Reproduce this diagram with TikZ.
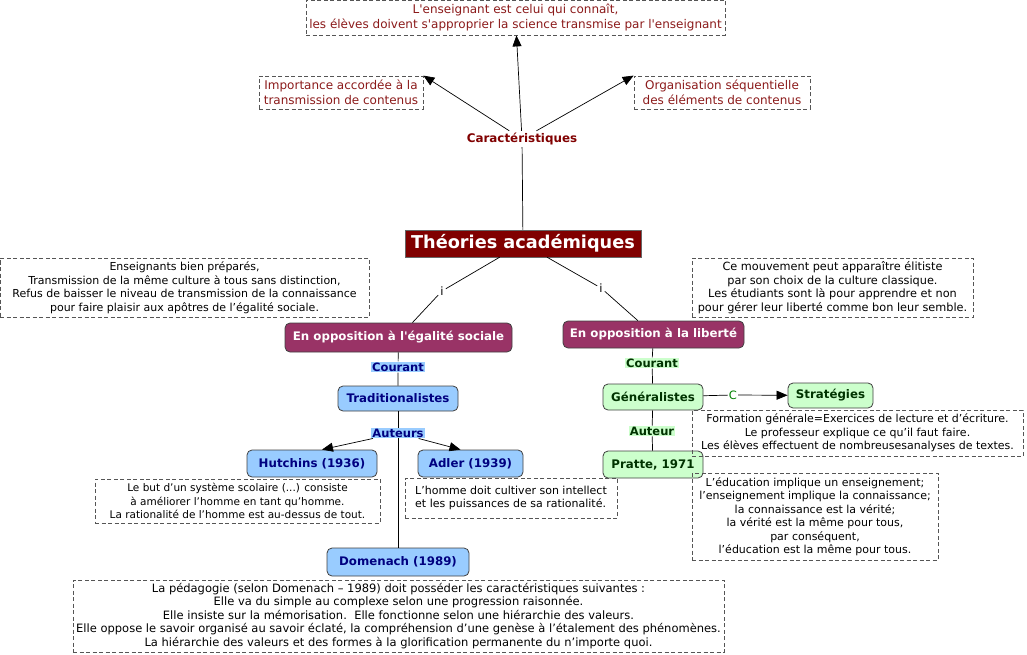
\documentclass[tikz,border=0pt]{standalone}
\usepackage{fontspec}
\setmainfont{DejaVu Sans}
\usepackage{tikz}
\usetikzlibrary{arrows.meta, shapes.misc, positioning, calc}
\definecolor{theored}{HTML}{800000}
\definecolor{notered}{HTML}{8B1A1A}
\definecolor{opppurple}{HTML}{993366}
\definecolor{tradblue}{HTML}{99CCFF}
\definecolor{tradnavy}{HTML}{000080}
\definecolor{gengreen}{HTML}{CCFFCC}
\definecolor{gendark}{HTML}{003300}
\definecolor{clgreen}{HTML}{008000}
\definecolor{notegray}{HTML}{555555}

\tikzset{
  conceptbox/.style={draw=black!75, rounded corners=5pt, line width=0.8pt,
    font=\fontsize{11.8}{13}\selectfont\bfseries, inner sep=2pt},
  oppbox/.style={conceptbox, fill=opppurple, text=white},
  bluebox/.style={conceptbox, fill=tradblue, text=tradnavy},
  greenbox/.style={conceptbox, fill=gengreen, text=gendark},
  notebox/.style={draw=notegray, dash pattern=on 4pt off 2.5pt, line width=0.8pt,
    align=center, font=\fontsize{11}{13.5}\selectfont, inner sep=2pt},
  rednote/.style={notebox, text=notered, font=\fontsize{12}{14.5}\selectfont},
  bluelabel/.style={fill=tradblue, text=tradnavy, inner sep=1pt,
    font=\fontsize{11.5}{12}\selectfont\bfseries},
  greenlabel/.style={fill=gengreen, text=gendark, inner sep=1pt,
    font=\fontsize{11.5}{12}\selectfont\bfseries},
  plainlabel/.style={inner sep=2pt, font=\fontsize{11.5}{12}\selectfont},
  linkline/.style={black, line width=0.7pt},
  arrowlink/.style={linkline, -{Triangle[length=11pt,width=9pt]}}
}

\begin{document}
\begin{tikzpicture}[x=1pt, y=-1pt]
  \useasboundingbox (0,0) rectangle (1027,655);

  %% Main concept and its characteristics
  \node[fill=theored, draw=black!60, text=white, inner sep=3pt,
        minimum width=236, minimum height=27,
        font=\fontsize{17.7}{19}\selectfont\bfseries] (theo) at (523,243.5) {Théories académiques};
  \node[text=theored, inner sep=2pt, font=\fontsize{11.9}{13}\selectfont\bfseries]
    (car) at (522,139) {Caractéristiques};

  %% The two branches
  \node[oppbox, minimum width=227, minimum height=29] (oppegal) at (398.5,337.5) {En opposition à l\textquotesingle égalité sociale};
  \node[oppbox, minimum width=181, minimum height=27] (opplib) at (653.5,334.5) {En opposition à la liberté};
  \node[plainlabel] (ileft) at (442,291) {i};
  \node[plainlabel] (iright) at (601,288) {i};

  %% Left branch: Traditionalistes
  \node[bluelabel] (courtrad) at (398,367) {Courant};
  \node[bluebox, minimum width=120, minimum height=25] (trad) at (398,398.5) {Traditionalistes};
  \node[bluelabel] (auteurs) at (398,433) {Auteurs};
  \node[bluebox, minimum width=130, minimum height=27] (hutchins) at (312,463.5) {Hutchins (1936)};
  \node[bluebox, minimum width=105, minimum height=27] (adler) at (470.5,463.5) {Adler (1939)};
  \node[bluebox, minimum width=142, minimum height=28] (domenach) at (398,562) {Domenach (1989)};

  %% Right branch: Généralistes
  \node[greenlabel] (courgen) at (652,363) {Courant};
  \node[greenbox, minimum width=100, minimum height=26] (gen) at (653,397) {Généralistes};
  \node[text=clgreen, inner sep=1pt, font=\fontsize{11.5}{12}\selectfont] (cstrat) at (733,395) {C};
  \node[greenbox, minimum width=85, minimum height=25] (strat) at (830.5,395.5) {Stratégies};
  \node[greenlabel] (auteur) at (652,431) {Auteur};
  \node[greenbox, minimum width=100, minimum height=27] (pratte) at (653,464.5) {Pratte, 1971};

  %% Links
  \draw[linkline] (car) -- (theo);
  \draw[linkline] (theo) -- (ileft) -- (oppegal);
  \draw[linkline] (theo) -- (iright) -- (opplib);
  \draw[linkline] (oppegal) -- (courtrad) -- (trad);
  \draw[linkline] (trad) -- (auteurs);
  \draw[arrowlink] (auteurs) -- ([xshift=10pt]hutchins.north);
  \draw[arrowlink] (auteurs) -- ([xshift=-10pt]adler.north);
  \draw[linkline] (auteurs) -- (domenach);
  \draw[linkline] (opplib) -- (courgen) -- (gen);
  \draw[linkline] (gen) -- (cstrat);
  \draw[arrowlink] (cstrat) -- (strat);
  \draw[linkline] (gen) -- (auteur) -- (pratte);

  %% Notes (dashed boxes)
  \node[rednote, minimum width=419, minimum height=35] (topnote) at (515.5,17.5)
    {L\textquotesingle enseignant est celui qui connaît,\\
     les élèves doivent s\textquotesingle approprier la science transmise par l\textquotesingle enseignant};
  \node[rednote, minimum width=164, minimum height=33] (impnote) at (341,92.5)
    {Importance accordée à la\\transmission de contenus};
  \node[rednote, minimum width=176, minimum height=33] (orgnote) at (722,92.5)
    {Organisation séquentielle\\des éléments de contenus};
  \draw[arrowlink] (car) -- (topnote);
  \draw[arrowlink] (car) -- (impnote.north east);
  \draw[arrowlink] (car) -- (orgnote.north west);

  \node[notebox, minimum width=369, minimum height=59] (egalnote) at (184.5,287.5)
    {Enseignants bien préparés,\\
     Transmission de la même culture à tous sans distinction,\\
     Refus de baisser le niveau de transmission de la connaissance\\
     pour faire plaisir aux apôtres de l’égalité sociale.};
  \node[notebox, font=\fontsize{11.3}{13.5}\selectfont, minimum width=281, minimum height=59] (libnote) at (832.5,287.5)
    {Ce mouvement peut apparaître élitiste\\
     par son choix de la culture classique.\\
     Les étudiants sont là pour apprendre et non\\
     pour gérer leur liberté comme bon leur semble.};
  \node[notebox, font=\fontsize{10.5}{13.5}\selectfont, minimum width=285, minimum height=44] (hutchnote) at (237.5,501)
    {Le but d’un système scolaire (...) consiste\\
     à améliorer l’homme en tant qu’homme.\\
     La rationalité de l’homme est au-dessus de tout.};
  \node[notebox, align=left, minimum width=212, minimum height=40] (adlernote) at (511,498)
    {L’homme doit cultiver son intellect\\
     et les puissances de sa rationalité.};
  \node[notebox, font=\fontsize{11.5}{13.5}\selectfont, minimum width=651, minimum height=72] (domnote) at (398.5,616)
    {La pédagogie (selon Domenach – 1989) doit posséder les caractéristiques suivantes :\\
     Elle va du simple au complexe selon une progression raisonnée.\\
     Elle insiste sur la mémorisation.\ \ Elle fonctionne selon une hiérarchie des valeurs.\\
     Elle oppose le savoir organisé au savoir éclaté, la compréhension d’une genèse à l’étalement des phénomènes.\\
     La hiérarchie des valeurs et des formes à la glorification permanente du n’importe quoi.};
  \node[notebox, minimum width=331, minimum height=46] (stratnote) at (857.5,433)
    {Formation générale=Exercices de lecture et d’écriture.\\
     Le professeur explique ce qu’il faut faire.\\
     Les élèves effectuent de nombreusesanalyses de textes.};
  \node[notebox, minimum width=246, minimum height=87] (prattenote) at (815,516.5)
    {L’éducation implique un enseignement;\\
     l’enseignement implique la connaissance;\\
     la connaissance est la vérité;\\
     la vérité est la même pour tous,\\
     par conséquent,\\
     l’éducation est la même pour tous.};

\end{tikzpicture}
\end{document}
